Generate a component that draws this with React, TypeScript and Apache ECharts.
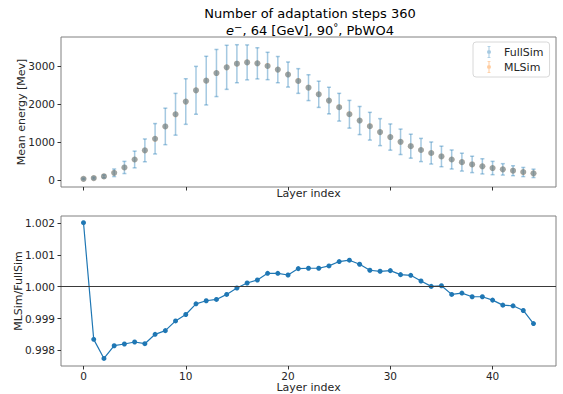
import React, { useEffect, useRef } from "react";
import * as echarts from "echarts";

const layers: number[] = Array.from({ length: 45 }, (_, i) => i);

const fullSimMean: number[] = [
  30, 50, 95, 190, 330, 540, 780, 1085, 1410, 1730,
  2065, 2360, 2615, 2815, 2965, 3060, 3095, 3070, 3000, 2905,
  2775, 2605, 2430, 2255, 2090, 1915, 1730, 1565, 1415, 1260,
  1130, 1005, 890, 790, 710, 620, 540, 470, 410, 360,
  315, 280, 245, 210, 175,
];

const fullSimErr: number[] = [
  20, 25, 40, 100, 160, 220, 300, 400, 480, 550,
  600, 630, 640, 620, 580, 500, 460, 410, 360, 345,
  330, 325, 340, 345, 350, 365, 365, 370, 365, 355,
  345, 335, 315, 305, 290, 270, 250, 235, 215, 200,
  175, 150, 130, 120, 110,
];

const ratio: number[] = [
  1.00201, 0.998347, 0.997747, 0.998147, 0.9982, 0.998263, 0.99821, 0.998505, 0.99862, 0.998926,
  0.999126, 0.999463, 0.999558, 0.9996, 0.999758, 0.999958, 1.000116, 1.00021, 1.00042, 1.00042,
  1.000368, 1.000568, 1.00058, 1.00058, 1.000653, 1.00079, 1.000832, 1.000705, 1.000516, 1.000484,
  1.000505, 1.000379, 1.000358, 1.000179, 1.00001, 1.00003, 0.999758, 0.9998, 0.999684, 0.999684,
  0.999579, 0.999421, 0.9994, 0.999253, 0.998842,
];

const xTicks: number[] = [0, 10, 20, 30, 40];
const energyTicks: number[] = [0, 1000, 2000, 3000];
const ratioTicks: number[] = [0.998, 0.999, 1.0, 1.001, 1.002];

const FONT = "DejaVu Sans";
const TXT = "#262626";
const TICK_FS = 10.5;

const legendIcon =
  "path://M0,0L0.01,0L0,0.01Z M12,14L11.99,14L12,13.99Z M4.5,1H7.5V1.8H4.5Z M5.5,1H6.5V13H5.5Z M4.5,12.2H7.5V13H4.5Z M6,5A2,2,0,1,1,6,9A2,2,0,1,1,6,5Z";

export default function App() {
  const ref = useRef<HTMLDivElement>(null);
  useEffect(() => {
    if (!ref.current) return;
    const chart = echarts.init(ref.current, undefined, { renderer: "svg" });
    const mlMean = fullSimMean.map((v, i) => v * ratio[i]);
    const errData = layers.map((l, i) => [l, fullSimMean[i], fullSimErr[i]]);

    const xAxisCommon = (gridIndex: number, showLabels: boolean) => ({
      type: "value",
      gridIndex,
      position: "bottom",
      min: -2.2,
      max: 46.2,
      axisLine: { show: false, onZero: false },
      splitLine: { show: false },
      axisTick: {
        show: true,
        inside: false,
        customValues: xTicks,
        length: 3.5,
        lineStyle: { color: "#333", width: 1 },
      },
      axisLabel: {
        show: showLabels,
        customValues: xTicks,
        fontFamily: FONT,
        fontSize: TICK_FS,
        color: TXT,
        margin: 4,
        formatter: (v: number) => String(v),
      },
      name: "Layer index",
      nameLocation: "middle",
      nameGap: showLabels ? 16 : 1,
      nameMoveOverlap: false,
      nameTextStyle: { fontFamily: FONT, fontSize: 11, color: TXT },
    });

    const gridCommon = {
      left: 61,
      width: 495,
      height: 150,
      show: true,
      borderColor: "#808080",
      borderWidth: 1,
      containLabel: false,
      outerBoundsMode: "none",
    };

    const yAxisCommon = {
      type: "value",
      position: "left",
      axisLine: { show: false, onZero: false },
      splitLine: { show: false },
      nameLocation: "middle",
      nameMoveOverlap: false,
      nameTextStyle: { fontFamily: FONT, fontSize: 11, color: TXT },
    };

    const option: any = {
      animation: false,
      backgroundColor: "#fff",
      grid: [
        { ...gridCommon, top: 37 },
        { ...gridCommon, top: 216 },
      ],
      xAxis: [xAxisCommon(0, false), xAxisCommon(1, true)],
      yAxis: [
        {
          ...yAxisCommon,
          gridIndex: 0,
          min: -184,
          max: 3763,
          axisTick: { show: true, inside: false, customValues: energyTicks, length: 3.5, lineStyle: { color: "#333" } },
          axisLabel: {
            customValues: energyTicks,
            fontFamily: FONT,
            fontSize: TICK_FS,
            color: TXT,
            margin: 6,
            formatter: (v: number) => String(v),
          },
          name: "Mean energy [Mev]",
          nameGap: 34,
        },
        {
          ...yAxisCommon,
          gridIndex: 1,
          min: 0.99751,
          max: 1.00222,
          axisTick: { show: true, inside: false, customValues: ratioTicks, length: 3.5, lineStyle: { color: "#333" } },
          axisLabel: {
            customValues: ratioTicks,
            fontFamily: FONT,
            fontSize: TICK_FS,
            color: TXT,
            margin: 6,
            formatter: (v: number) => v.toFixed(3),
          },
          name: "MLSim/FullSim",
          nameGap: 37,
        },
      ],
      legend: {
        orient: "vertical",
        left: 473,
        top: 42,
        padding: [3, 6, 3, 10],
        itemWidth: 12,
        itemHeight: 14,
        itemGap: 1,
        backgroundColor: "rgba(255,255,255,0.8)",
        borderColor: "#d8d8d8",
        borderWidth: 1,
        borderRadius: 3,
        textStyle: { fontFamily: FONT, fontSize: 11, color: TXT, padding: [0, 0, 0, 4] },
        data: [
          { name: "FullSim", icon: legendIcon, itemStyle: { color: "rgba(31,119,180,0.5)" } },
          { name: "MLSim", icon: legendIcon, itemStyle: { color: "rgba(255,127,14,0.5)" } },
        ],
      },
      graphic: [
        {
          type: "text",
          x: 310,
          y: 7,
          style: {
            text: "Number of adaptation steps 360",
            fontFamily: FONT,
            fontSize: 13,
            fill: "#000",
            align: "center",
          },
        },
        {
          type: "text",
          x: 310,
          y: 22,
          style: {
            text: "{i|e}{s|−}{n|, 64 [GeV], 90}{s|°}{n|, PbWO4}",
            fontFamily: FONT,
            fontSize: 13,
            fill: "#000",
            align: "center",
            rich: {
              i: { fontFamily: FONT, fontSize: 13, fontStyle: "italic", lineHeight: 16, fill: "#000" },
              n: { fontFamily: FONT, fontSize: 13, lineHeight: 16, fill: "#000" },
              s: { fontFamily: FONT, fontSize: 10, lineHeight: 16, verticalAlign: "top", fill: "#000" },
            },
          },
        },
      ],
      series: [
        {
          type: "custom",
          name: "FullSimErr",
          xAxisIndex: 0,
          yAxisIndex: 0,
          data: errData,
          encode: { x: 0, y: 1 },
          z: 1,
          silent: true,
          renderItem: (params: any, api: any) => {
            const x = api.value(0);
            const m = api.value(1);
            const e = api.value(2);
            const top = api.coord([x, m + e]);
            const bot = api.coord([x, m - e]);
            const st = { stroke: "rgba(31,119,180,0.4)", lineWidth: 1.5 };
            const cw = 2;
            return {
              type: "group",
              children: [
                { type: "line", shape: { x1: top[0], y1: top[1], x2: bot[0], y2: bot[1] }, style: st },
                { type: "line", shape: { x1: top[0] - cw, y1: top[1], x2: top[0] + cw, y2: top[1] }, style: st },
                { type: "line", shape: { x1: bot[0] - cw, y1: bot[1], x2: bot[0] + cw, y2: bot[1] }, style: st },
              ],
            };
          },
        },
        {
          type: "scatter",
          name: "MLSim",
          xAxisIndex: 0,
          yAxisIndex: 0,
          data: layers.map((l, i) => [l, mlMean[i]]),
          symbol: "circle",
          symbolSize: 6,
          itemStyle: { color: "rgba(255,127,14,0.55)" },
          z: 2,
        },
        {
          type: "scatter",
          name: "FullSim",
          xAxisIndex: 0,
          yAxisIndex: 0,
          data: layers.map((l, i) => [l, fullSimMean[i]]),
          symbol: "circle",
          symbolSize: 6,
          itemStyle: { color: "rgba(31,119,180,0.55)" },
          z: 3,
        },
        {
          type: "line",
          name: "ratio",
          xAxisIndex: 1,
          yAxisIndex: 1,
          data: layers.map((l, i) => [l, ratio[i]]),
          symbol: "circle",
          symbolSize: 5,
          showSymbol: true,
          lineStyle: { color: "#1f77b4", width: 1.2 },
          itemStyle: { color: "#1f77b4" },
          z: 3,
          markLine: {
            silent: true,
            symbol: "none",
            label: { show: false },
            lineStyle: { color: "#3a3a3a", width: 1.2, type: "solid" },
            data: [{ yAxis: 1.0 }],
          },
        },
      ],
    };
    chart.setOption(option);
    return () => chart.dispose();
  }, []);
  return (
    <div
      ref={ref}
      style={{ position: "fixed", left: 0, top: 0, width: 563, height: 394, background: "#fff" }}
    />
  );
}
